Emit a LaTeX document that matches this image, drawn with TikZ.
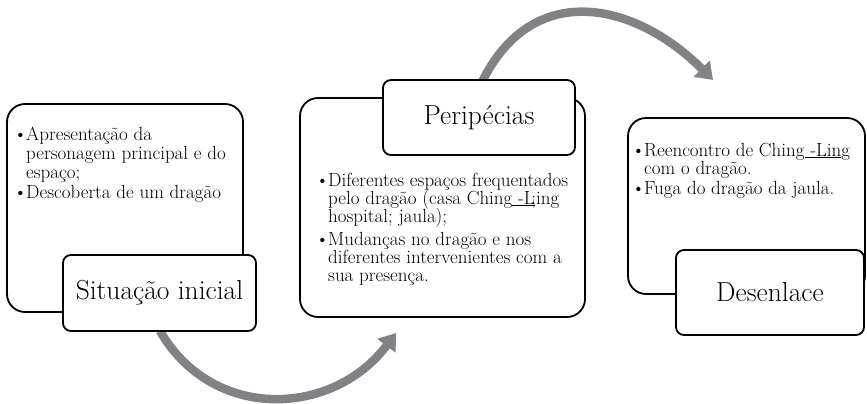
\documentclass[tikz,border=0pt]{standalone}
\usepackage{fontspec}
\usetikzlibrary{arrows.meta}
\definecolor{arrowgray}{RGB}{128,130,133}
\tikzset{
  bigbox/.style={draw=black, line width=1.8pt, rounded corners=18pt, inner sep=0pt},
  lblbox/.style={draw=black, fill=white, line width=1.8pt, rounded corners=8pt, inner sep=0pt, font=\fontsize{27.5}{30}\selectfont},
  body/.style={anchor=base west, inner sep=0pt, font=\fontsize{19}{21}\selectfont\addfontfeatures{FakeStretch=1.07}},
  bul/.style={anchor=base, inner sep=0pt, font=\fontsize{19}{22}\selectfont},
  flow/.style={draw=arrowgray, line width=8.5pt, -{Triangle[width=22pt,length=16pt]}}
}
\begin{document}
\begin{tikzpicture}[x=1pt,y=-1pt]
\useasboundingbox (0,0) rectangle (867,404);

% arrows
\coordinate (a1s) at (160,331);
\coordinate (a1e) at (396,333);
\draw[flow] (a1s) .. controls (212.5,422) and (333,417) .. (a1e);
\coordinate (a2s) at (482,82);
\coordinate (a2e) at (713,80);
\draw[flow] (a2s) .. controls (532.4,-20.8) and (634.6,1.6) .. (a2e);

% big boxes
\node[bigbox, minimum width=236pt, minimum height=208pt] (b1) at (125,208) {};
\node[bigbox, minimum width=285pt, minimum height=219pt] (b2) at (442.5,207.5) {};
\node[bigbox, minimum width=237pt, minimum height=176pt] (b3) at (746.5,206) {};

% label boxes
\node[lblbox, minimum width=193pt, minimum height=76pt] (lab1) at (159.5,293) {Situação inicial};
\node[lblbox, minimum width=192pt, minimum height=75pt] (lab2) at (479,117.5) {Peripécias};
\node[lblbox, minimum width=188pt, minimum height=85pt] (lab3) at (770,292.5) {Desenlace};

% left text
\node[bul] (p1b1) at (20.5,140) {\textbullet};
\node[body] (p1l1) at (26,140) {Apresentação da};
\node[body] (p1l2) at (26,159) {personagem principal e do};
\node[body] (p1l3) at (26,178) {espaço;};
\node[bul] (p1b2) at (20.5,198) {\textbullet};
\node[body] (p1l4) at (26,198) {Descoberta de um dragão};

% middle text
\node[bul] (p2b1) at (322.5,186) {\textbullet};
\node[body] (p2l1) at (328,186) {Diferentes espaços frequentados};
\node[body] (p2l2) at (328,204) {pelo dragão (casa Ching\underline{\ -L}\kern-3.5pt;ing};
\node[body] (p2l3) at (328,222) {hospital; jaula);};
\node[bul] (p2b2) at (322.5,245) {\textbullet};
\node[body] (p2l4) at (328,245) {Mudanças no dragão e nos};
\node[body] (p2l5) at (328,263) {diferentes intervenientes com a};
\node[body] (p2l6) at (328,281) {sua presença.};

% right text
\node[bul] (p3b1) at (638.5,156) {\textbullet};
\node[body] (p3l1) at (644,156) {Reencontro de Ching\underline{\ -Lin}g};
\node[body] (p3l2) at (644,174) {com o dragão.};
\node[bul] (p3b2) at (638.5,194) {\textbullet};
\node[body] (p3l3) at (644,194) {Fuga do dragão da jaula.};
\end{tikzpicture}
\end{document}
